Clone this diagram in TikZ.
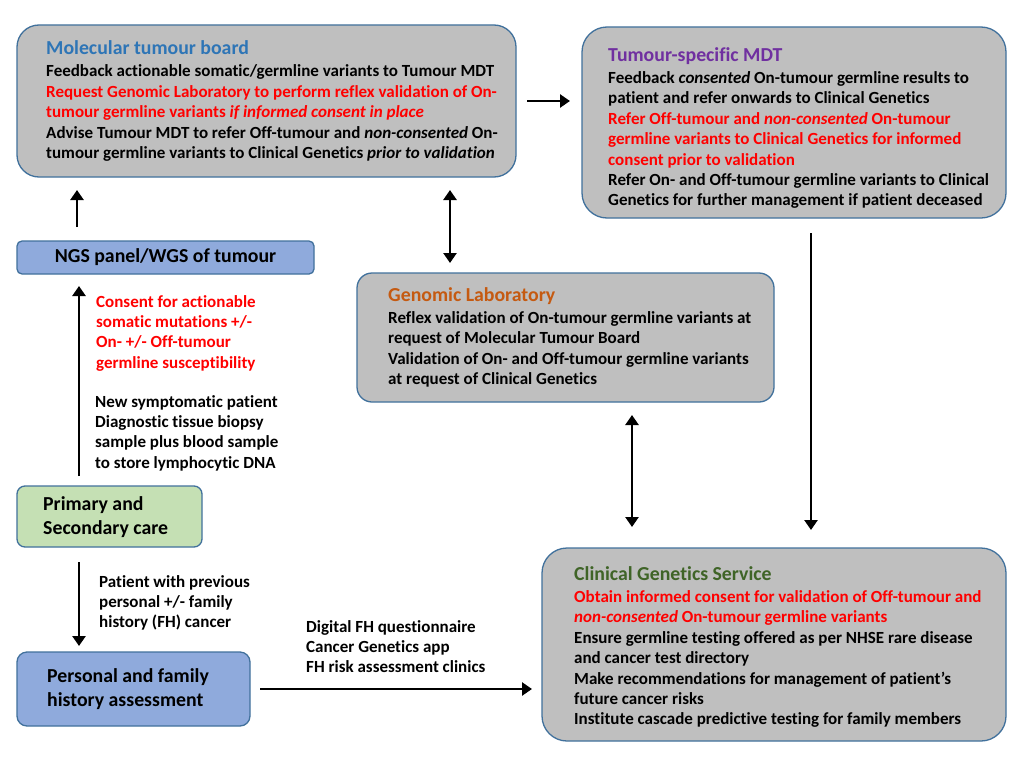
\documentclass[tikz,border=0pt]{standalone}
\usepackage{fontspec}
\setmainfont{Carlito}[Ligatures={NoCommon}]
\usetikzlibrary{arrows.meta}
\definecolor{boxgray}{HTML}{BFBFBF}
\definecolor{edgeblue}{HTML}{41719C}
\definecolor{lightblue}{HTML}{8FAADC}
\definecolor{lightgreen}{HTML}{C5E0B4}
\definecolor{tblue}{HTML}{2E75B6}
\definecolor{tpurple}{HTML}{7030A0}
\definecolor{torange}{HTML}{C55A11}
\definecolor{tgreen}{HTML}{3F6427}
\definecolor{myred}{HTML}{FF0000}
\newcommand{\ttlfont}{\fontsize{19.8}{20.4}\selectfont}
\begin{document}
\begin{tikzpicture}[x=1pt,y=-1pt,
  panel/.style={draw=edgeblue, line width=1.3pt, fill=boxgray, anchor=north west, inner sep=0pt, outer sep=0pt},
  txt/.style={anchor=north west, align=left, inner sep=0pt, font=\fontsize{17}{20.4}\selectfont\bfseries},
  bigtxt/.style={anchor=north west, align=left, inner sep=0pt, font=\fontsize{19.8}{24}\selectfont\bfseries},
  arr/.style={line width=2.7pt, -{Triangle[length=10pt,width=13pt]}},
  darr/.style={line width=2.7pt, {Triangle[length=10pt,width=13pt]}-{Triangle[length=10pt,width=13pt]}},
]
\useasboundingbox (0,0) rectangle (1024,768);
\fill[white] (0,0) rectangle (1024,768);

% boxes
\node[panel, rounded corners=22pt, minimum width=499pt, minimum height=152pt] (mtb) at (17,25) {};
\node[panel, rounded corners=25pt, minimum width=424pt, minimum height=191pt] (tsm) at (582,27) {};
\node[panel, rounded corners=5pt, fill=lightblue, minimum width=297pt, minimum height=33pt, font=\fontsize{19.8}{20}\selectfont\bfseries] (ngs) at (17,241) {NGS panel/WGS of tumour};
\node[panel, rounded corners=15pt, minimum width=417pt, minimum height=129pt] (gl) at (357,273) {};
\node[panel, rounded corners=8pt, fill=lightgreen, minimum width=185pt, minimum height=61pt] (prim) at (17,486) {};
\node[panel, rounded corners=10pt, fill=lightblue, minimum width=233pt, minimum height=74pt] (pers) at (17,652) {};
\node[panel, rounded corners=25pt, minimum width=464pt, minimum height=193pt] (cgs) at (542,548) {};

% box texts
\node[txt] (mtbt) at (46,40) {\textcolor{tblue}{\ttlfont Molecular tumour board}\\[2.5pt]
Feedback actionable somatic/germline variants to Tumour MDT\\
\textcolor{myred}{Request Genomic Laboratory to perform reflex validation of On-}\\
\textcolor{myred}{tumour germline variants \textit{if informed consent in place}}\\
Advise Tumour MDT to refer Off-tumour and \textit{non-consented} On-\\
tumour germline variants to Clinical Genetics \textit{prior to validation}};

\node[txt] (tsmt) at (608,47) {\textcolor{tpurple}{\ttlfont Tumour-specific MDT}\\[2pt]
Feedback \textit{consented} On-tumour germline results to\\
patient and refer onwards to Clinical Genetics\\
\textcolor{myred}{Refer Off-tumour and \textit{non-consented} On-tumour}\\
\textcolor{myred}{germline variants to Clinical Genetics for informed}\\
\textcolor{myred}{consent prior to validation}\\
Refer On- and Off-tumour germline variants to Clinical\\
Genetics for further management if patient deceased};

\node[txt] (glt) at (388,287) {\textcolor{torange}{\ttlfont Genomic Laboratory}\\[2pt]
Reflex validation of On-tumour germline variants at\\
request of Molecular Tumour Board\\
Validation of On- and Off-tumour germline variants\\
at request of Clinical Genetics};

\node[txt] (cgst) at (574,566) {\textcolor{tgreen}{\ttlfont Clinical Genetics Service}\\[2pt]
\textcolor{myred}{Obtain informed consent for validation of Off-tumour and}\\
\textcolor{myred}{\textit{non-consented} On-tumour germline variants}\\
Ensure germline testing offered as per NHSE rare disease\\
and cancer test directory\\
Make recommendations for management of patient’s\\
future cancer risks\\
Institute cascade predictive testing for family members};

\node[bigtxt] (primt) at (43,496) {Primary and\\Secondary care};
\node[bigtxt] (perst) at (47,668) {Personal and family\\history assessment};

% free labels
\node[txt, text=myred] (consent) at (96,295) {Consent for actionable\\somatic mutations +/-\\On- +/- Off-tumour\\germline susceptibility};
\node[txt] (newpat) at (95,395) {New symptomatic patient\\Diagnostic tissue biopsy\\sample plus blood sample\\to store lymphocytic DNA};
\node[txt] (prevpat) at (99,575) {Patient with previous\\personal +/- family\\history (FH) cancer};
\node[txt] (digital) at (306,620) {Digital FH questionnaire\\Cancer Genetics app\\FH risk assessment clinics};

% helper coordinates
\coordinate (c1) at ([xshift=60pt]ngs.north west);
\coordinate (c2) at ([xshift=93pt]gl.north west);
\coordinate (c3) at ([xshift=229pt]tsm.south west);
\coordinate (c4) at ([xshift=275pt]gl.south west);
\coordinate (c5) at ([xshift=62pt]prim.north west);
\coordinate (c6) at ([xshift=62pt]prim.south west);

% connectors
\draw[arr, shorten <=11pt, shorten >=12pt] (mtb.east) -- (mtb.east -| tsm.west);
\draw[arr, shorten <=14pt, shorten >=13pt] (c1) -- (c1 |- mtb.south);
\draw[darr, shorten <=10pt, shorten >=13pt] (c2) -- (c2 |- mtb.south);
\draw[arr, shorten <=15pt, shorten >=18pt] (c3) -- (c3 |- cgs.north);
\draw[darr, shorten <=13pt, shorten >=21pt] (c4) -- (c4 |- cgs.north);
\draw[arr, shorten <=10pt, shorten >=12pt] (c5) -- (c5 |- ngs.south);
\draw[arr, shorten <=15pt, shorten >=6pt] (c6) -- (c6 |- pers.north);
\draw[arr, shorten <=10pt, shorten >=10pt] (pers.east) -- (pers.east -| cgs.west);
\end{tikzpicture}
\end{document}
